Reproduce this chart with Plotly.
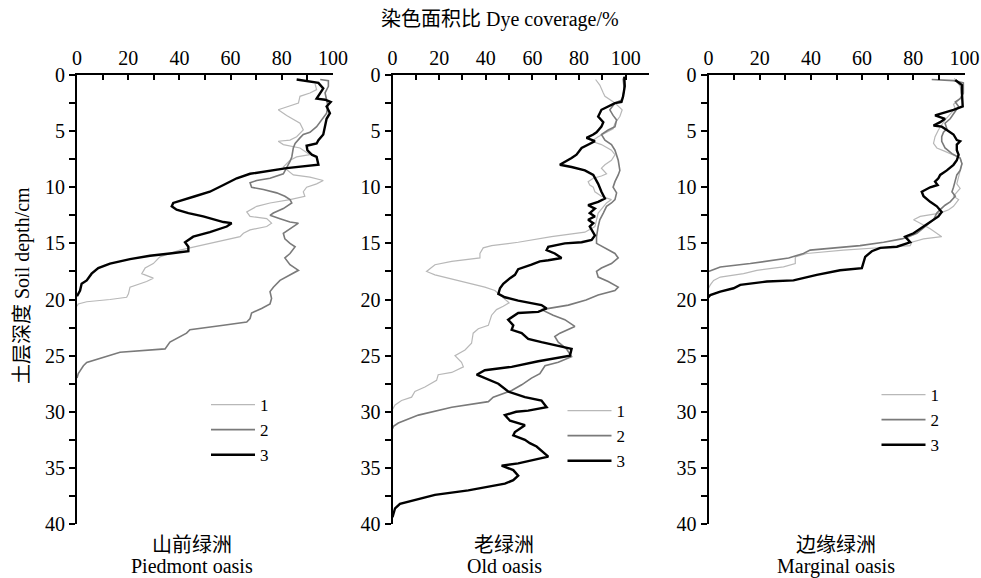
import plotly.graph_objects as go

W, H = 981, 578

# ---------------- data (depth in cm, dye coverage in %) ----------------
piedmont_d1 = [0.8,1.3,1.6,1.9,2.5,3.1,3.6,4.0,4.3,4.9,5.5,5.8,5.9,6.2,6.5,7.1,7.3,7.6,8.2,8.9,9.1,9.4,9.7,10.0,10.4,10.8,11.1,11.4,11.7,12.2,12.6,12.8,13.2,13.5,13.8,14.1,14.4,15.2,15.6,16.2,16.8,17.2,17.7,18.1,18.4,18.9,19.5,19.8,20.0,20.2,20.4,20.6]
piedmont_v1 = [93,93.6,91,87.1,86.5,78.6,81.9,85.2,87.1,88.4,85.8,83.2,78.6,80.6,87.1,91,85.8,83.2,80.6,84.5,91,96.2,93.6,89.7,88.4,89,83.2,75.4,70.2,66.3,67.6,74.1,76,74.1,67.6,65,63.7,48,40.2,32.4,29.8,26.6,25.3,29.8,27.2,20.7,20.1,19.4,12.9,3.8,0.5,0]

piedmont_d2 = [0.4,0.5,1.0,1.6,2.2,2.8,3.4,4.0,4.6,5.1,5.3,5.6,6.1,6.5,7.3,7.7,8.2,8.8,9.2,9.4,9.6,10.0,10.2,10.5,10.8,11.1,11.4,11.9,12.3,12.5,12.8,13.1,13.2,13.7,14.1,14.6,15.0,15.3,15.9,16.3,16.9,17.4,17.8,18.3,18.9,19.3,19.9,20.4,20.8,21.2,21.7,22.0,22.3,22.7,23.0,23.8,24.4,24.7,25.6,25.9,26.6,27.0]
piedmont_v2 = [95,98.2,98.2,96.9,97.5,98,97.5,95.6,93.6,91,88.4,87.1,85.2,84.5,83.9,83.2,81.9,80.6,75.4,70.2,67.6,68.2,72.8,78,81.2,83.2,83.9,80.6,76.7,75.4,79.3,83.2,86.5,83.2,80.6,81.2,83.2,85.2,83.2,81.2,83.2,86.5,83.2,79.3,76.7,75.4,76,75.4,72.1,68.2,67.6,66.3,57.2,44.1,42.8,36.3,34.4,16.8,3.8,2.5,0.5,0]

piedmont_d3 = [0.4,0.7,1.2,1.8,2.1,2.2,2.4,2.8,3.4,3.9,4.6,5.3,5.8,6.1,6.3,6.7,7.1,7.3,8.0,8.3,8.8,9.2,9.8,10.4,10.8,11.1,11.4,11.7,12.0,12.3,12.6,13.1,13.2,13.5,14.0,14.4,14.7,14.9,15.3,15.7,15.9,16.1,16.4,16.8,17.2,17.7,18.3,18.6,19.2,19.5,19.7]
piedmont_v3 = [85.8,94.3,96.2,94.3,93.6,96.9,99.1,97.5,98.8,97.5,96.9,96.2,94.3,93.6,89.7,90,91.7,93.6,94.3,81.9,67.6,62.4,57.2,51.9,46.1,41.5,37.6,37,38.9,43.5,49.3,57.2,60.4,58.5,51.9,45.4,43.5,42.2,43.5,43.5,36.3,28.5,20.7,12.9,8.3,5.7,3.8,1.8,1.2,0.5,0]

old_d1 = [0.4,0.9,1.6,1.9,2.5,3.1,3.7,4.3,4.8,5.2,5.5,5.9,6.2,6.7,7.1,7.6,8.0,8.3,8.8,9.0,9.2,9.5,9.8,10.0,10.4,10.8,11.1,11.4,11.9,12.3,12.9,13.5,14.0,14.4,14.9,15.2,15.4,15.9,16.3,16.6,16.9,17.5,17.8,18.4,18.9,19.2,19.6,20.0,20.3,20.6,20.9,21.4,21.8,22.3,22.6,23.0,23.9,24.5,25.0,25.6,26.0,26.3,26.5,26.7,27.2,27.8,28.2,28.7,29.0,29.4,29.6,29.8]
old_v1 = [87.1,88.9,90.4,91.1,95.4,98.5,97.5,95.4,94.6,91.1,88.2,85.4,89.6,93.9,95.4,93.9,91.1,89.6,91.8,89.6,86.1,83.9,84.6,86.1,86.8,89.6,93.9,91.8,89.6,88.2,87.5,86.8,82.5,68.2,53.9,42.5,38.9,37.5,37.5,25.4,18.2,14.6,18.2,29.6,39.6,43.9,46.1,48.5,50,47.5,44.6,42.5,41.8,41.1,36.8,34.6,33.9,31.1,26.8,29.6,30.4,27.5,25.4,19.6,18.9,13.9,9.6,8.2,3.9,1.1,0.4,0]

old_d2 = [0.3,1.3,2.2,2.5,3.1,3.6,4.0,4.6,4.9,5.3,5.8,6.2,6.7,7.1,7.6,8.5,8.9,9.5,10.0,10.5,11.1,11.4,11.7,12.3,12.9,13.5,14.4,15.0,15.4,15.9,16.3,16.8,17.2,17.5,18.0,18.4,18.9,19.2,19.6,20.05,20.5,20.8,20.9,21.4,21.8,22.4,22.7,23.0,23.3,23.8,24.4,25.1,25.6,25.9,26.6,27.0,27.6,28.1,28.7,29.1,29.6,30.3,31.0,31.3,31.5]
old_v2 = [98.9,99.4,98.5,95.4,93.2,94.6,96.1,95.4,92.5,89.6,91.1,93.9,95.4,96.1,96.8,97.5,96.8,95.4,94.6,96.1,95.4,93.9,91.8,90.4,88.9,88.2,87.5,87.5,91.1,95.4,96.8,93.9,89.6,87.5,88.2,92.5,96.8,95.4,88.2,83,75.4,66.8,63.9,68.9,73.9,78.2,74.6,71.8,69.6,71.1,74.6,76.8,71.1,65.4,63.2,59.6,55.4,51.1,43.2,41.1,25.4,11.1,2.5,0.4,0]

old_d3 = [0.15,1.0,1.9,2.4,2.5,3.1,3.7,4.2,4.6,5.1,5.3,5.6,5.9,6.2,6.5,7.1,7.4,7.9,8.0,8.2,8.5,8.9,9.7,10.4,11.0,11.3,11.6,11.9,12.3,12.6,12.9,13.2,13.5,14.3,14.7,14.9,15.0,15.3,15.6,15.9,16.3,16.5,16.6,16.9,17.3,17.8,18.1,18.6,19.0,19.5,19.8,20.1,20.5,20.8,21.1,21.2,21.8,22.3,22.7,23.0,23.5,23.8,24.1,24.4,25.0,25.5,26.0,26.3,26.7,27.0,27.5,28.2,28.7,29.0,29.6,29.9,30.0,30.3,30.8,31.2,31.8,32.1,32.5,32.8,33.1,34.0,34.3,34.6,34.8,35.2,35.7,36.1,36.4,37.0,37.4,37.9,38.2,38.6,39.1,39.4]
old_v3 = [99.4,99.6,98.9,98.2,95.4,89.6,88.2,90.4,89.6,87.5,86.1,83.2,86.8,83.9,81.1,78.9,76.8,72.5,71.8,76.8,82.5,86.1,88.2,89.6,91.1,88.2,83.9,86.8,84.6,86.8,83.9,86.1,84.6,86.8,85.4,81.1,73.9,66.8,66.1,69.6,72.5,66.8,63.2,59.6,53.9,52.5,50.4,47.5,46.1,45.4,48.2,53.9,63.9,66.1,62.5,53.9,49.6,51.8,51.1,55.4,58.2,63.9,71.1,76.8,76.1,62.5,51.1,39.6,36.1,39.6,45.4,49.6,56.8,63.9,66.1,58.2,53.0,48.2,50.4,56.8,52.5,51.8,56.8,58.9,61.8,66.8,59.6,53.9,46.8,51.8,53.9,51.8,48.2,32.5,18.2,8.2,3.2,1.1,0.4,0]

marginal_d1 = [0.3,1.0,1.9,2.4,2.6,3.0,3.3,4.0,4.9,5.5,6.1,6.5,6.8,7.1,7.4,7.9,8.6,9.2,9.7,10.1,10.5,10.8,11.1,11.7,12.0,12.3,12.6,12.9,13.2,13.7,14.4,14.6,14.9,15.2,15.3,15.6,15.9,16.2,16.8,17.1,17.4,17.7,18.0,18.3,18.7,19.0]
marginal_v1 = [96,98.3,99,97,95.7,96.4,95.1,92.4,89.8,88.5,87.9,89.2,92.4,95.7,98.3,99,98.3,97.7,97.0,98.3,97.0,95.7,97.7,95.7,93.8,90.5,82.7,80.1,82.7,86.6,91.1,84,79.4,78.8,72.3,52.7,38.4,33.9,33.9,29.3,18.9,13.7,4.6,2.0,0.7,0]

marginal_d2 = [0.4,0.5,0.7,1.6,2.1,2.4,2.8,3.4,3.9,4.3,4.8,5.1,5.5,5.9,6.5,7.0,7.4,7.9,8.5,8.9,9.5,10.0,10.4,10.8,11.3,11.6,12.0,12.3,12.9,13.4,13.7,14.1,14.4,14.6,14.9,15.2,15.6,15.9,16.3,16.6,16.8,17.1,17.3,17.5]
marginal_v2 = [87.2,95.7,99.6,99.6,98.3,96.4,97.7,95.7,94.4,92.4,93.1,91.8,91.1,91.1,92.4,95.1,98.3,99,98.3,97,96.4,95.7,95.1,96.4,94.4,92.4,90.5,89.2,87.9,85.3,83.3,81.4,78.1,75.5,68.4,59.2,39.7,37.1,31.3,22.8,16.3,4.6,2.0,0]

marginal_d3 = [0.45,0.9,1.6,2.8,3.1,3.4,3.6,3.9,4.2,4.5,4.6,4.9,5.3,5.8,5.9,6.2,6.7,7.1,7.6,8.0,8.5,8.9,9.2,9.5,9.8,10.0,10.4,10.8,11.3,11.7,12.2,12.6,13.1,13.7,14.1,14.4,14.9,15.0,15.3,15.4,15.7,16.2,16.8,17.2,17.4,17.8,18.3,18.4,18.7,19.0,19.3,19.6,19.8]
marginal_v3 = [96.4,99,99,99.3,95.7,91.8,88.5,92.4,90.5,87.9,91.1,93.1,95.7,97,98.3,97,97,97.7,97,95.7,93.1,90.5,89.8,88.5,89.5,86.6,83.3,84,86.6,89.2,91.1,89.8,86.6,82.7,80.1,76.8,78.8,77.5,73.6,67.1,63.8,61.2,60.5,59.9,51.4,42.3,33.2,22.8,12.4,9.8,4.6,0.7,0]

series_names = ["1", "2", "3"]
panel_cn = ["山前绿洲", "老绿洲", "边缘绿洲"]
panel_en = ["Piedmont oasis", "Old oasis", "Marginal oasis"]
x_title = "染色面积比 Dye coverage/%"
y_title = "土层深度 Soil depth/cm"
x_ranges = [[0, 100], [0, 110], [0, 100]]
x_tickvals = [0, 20, 40, 60, 80, 100]
y_tickvals = [0, 5, 10, 15, 20, 25, 30, 35, 40]

panels = [
    [(piedmont_d1, piedmont_v1), (piedmont_d2, piedmont_v2), (piedmont_d3, piedmont_v3)],
    [(old_d1, old_v1), (old_d2, old_v2), (old_d3, old_v3)],
    [(marginal_d1, marginal_v1), (marginal_d2, marginal_v2), (marginal_d3, marginal_v3)],
]
for p in panels:
    for d, v in p:
        assert len(d) == len(v), (len(d), len(v))

# ---------------- styles ----------------
colors = ["#b8b8b8", "#7a7a7a", "#000000"]
widths = [1.2, 1.6, 2.4]
FONT = "Liberation Serif, Times New Roman, Noto Sans CJK SC, serif"
FS = 20
LFS = 17

# pixel geometry
x_px = [(77, 333), (392.5, 649), (708.5, 964.5)]
y_top_px, y_bot_px = 75, 524
ydom = [(H - y_bot_px) / H, (H - y_top_px) / H]
legend_pos = [(206, 387), (562.5, 393), (876.5, 377)]

fig = go.Figure()
for i, p in enumerate(panels):
    xa = "x" if i == 0 else f"x{i+1}"
    ya = "y" if i == 0 else f"y{i+1}"
    lg = "legend" if i == 0 else f"legend{i+1}"
    for j, (d, v) in enumerate(p):
        fig.add_trace(go.Scatter(
            x=v, y=d, mode="lines", name=series_names[j],
            line=dict(color=colors[j], width=widths[j]),
            xaxis=xa, yaxis=ya, legend=lg, showlegend=True,
        ))

layout = dict(
    width=W, height=H,
    margin=dict(l=0, r=0, t=0, b=0, autoexpand=False),
    paper_bgcolor="white", plot_bgcolor="white",
    font=dict(family=FONT, size=FS, color="black"),
)
for i in range(3):
    sx = "" if i == 0 else str(i + 1)
    layout[f"xaxis{sx}"] = dict(
        domain=[x_px[i][0] / W, x_px[i][1] / W], range=x_ranges[i],
        anchor=f"y{sx}", side="top", automargin=False,
        tickmode="array", tickvals=x_tickvals,
        ticks="inside", ticklen=5, tickwidth=1.5, tickcolor="black",
        minor=dict(tickmode="array", tickvals=[10, 30, 50, 70, 90],
                   ticks="inside", ticklen=5, tickwidth=1.5, tickcolor="black"),
        showline=True, linewidth=2, linecolor="black",
        showgrid=False, zeroline=False,
        tickfont=dict(family=FONT, size=FS, color="black"),
        fixedrange=True,
    )
    layout[f"yaxis{sx}"] = dict(
        domain=ydom, range=[40, 0], anchor=f"x{sx}", automargin=False,
        tickmode="array", tickvals=y_tickvals,
        ticks="outside", ticklen=6, tickwidth=1.5, tickcolor="black",
        minor=dict(tickmode="array", tickvals=[2.5 + 5 * k for k in range(8)],
                   ticks="outside", ticklen=6, tickwidth=1.5, tickcolor="black"),
        showline=True, linewidth=2, linecolor="black",
        showgrid=False, zeroline=False,
        tickfont=dict(family=FONT, size=FS, color="black"),
        fixedrange=True,
    )
    lname = "legend" if i == 0 else f"legend{i+1}"
    lx, ly = legend_pos[i]
    layout[lname] = dict(
        x=lx / W, y=(H - ly) / H, xanchor="left", yanchor="top",
        xref="paper", yref="paper",
        bgcolor="rgba(0,0,0,0)", borderwidth=0,
        font=dict(family=FONT, size=LFS, color="black"),
        itemwidth=44, tracegroupgap=0,
    )

fig.update_layout(**layout)

annotations = [
    dict(text=x_title, x=500 / W, y=(H - 20) / H, showarrow=False,
         xanchor="center", yanchor="middle", font=dict(size=FS)),
    dict(text=y_title, x=22 / W, y=(H - 286) / H, showarrow=False, textangle=-90,
         xanchor="center", yanchor="middle", font=dict(size=FS)),
]
label_cx = [192, 504, 836]
for i in range(3):
    annotations.append(dict(text=panel_cn[i], x=label_cx[i] / W, y=(H - 545) / H,
                            showarrow=False, xanchor="center", yanchor="middle",
                            font=dict(size=FS)))
    annotations.append(dict(text=panel_en[i], x=label_cx[i] / W, y=(H - 566) / H,
                            showarrow=False, xanchor="center", yanchor="middle",
                            font=dict(size=FS)))
for a in annotations:
    a["xref"] = "paper"
    a["yref"] = "paper"
fig.update_layout(annotations=annotations)

fig.write_html("out.html", config={"displayModeBar": False})

# remove the default page margin so the figure sits at the window's origin
with open("out.html", "r", encoding="utf-8") as f:
    html = f.read()
html = html.replace("<head>", "<head><style>html,body{margin:0;padding:0;overflow:hidden;}</style>", 1)
with open("out.html", "w", encoding="utf-8") as f:
    f.write(html)
